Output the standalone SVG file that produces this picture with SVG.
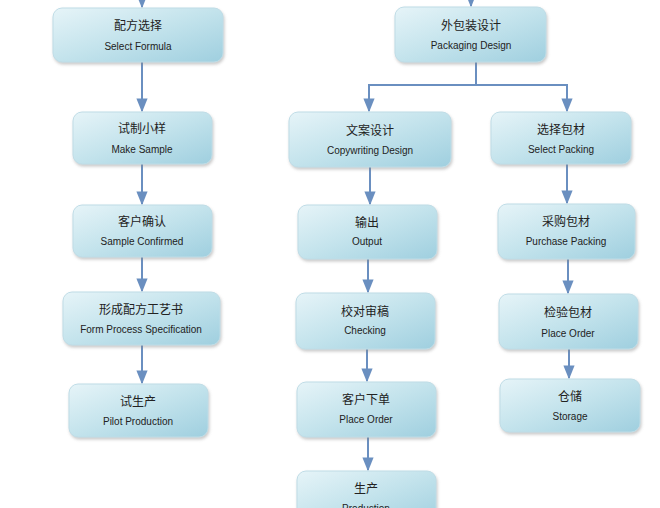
<svg xmlns="http://www.w3.org/2000/svg" width="660" height="508" viewBox="0 0 660 508">
<defs>
<linearGradient id="g" x1="0" y1="0" x2="1" y2="1">
<stop offset="0" stop-color="#e6f4f8"/><stop offset="0.5" stop-color="#c3e3ec"/><stop offset="1" stop-color="#9fcfdf"/>
</linearGradient>
<marker id="a" viewBox="0 0 10 10" refX="9" refY="5" markerWidth="7" markerHeight="7" orient="auto"><path d="M0,1 L10,5 L0,9 z" fill="#6a8fc0"/></marker>
<filter id="s" x="-10%" y="-10%" width="130%" height="140%"><feDropShadow dx="1" dy="2" stdDeviation="1.5" flood-color="#888" flood-opacity="0.45"/></filter>
</defs>
<style>
rect{fill:url(#g);stroke:#bfdce6;stroke-width:1;filter:url(#s)}
.c{font-family:"Liberation Sans","Noto Sans CJK SC",sans-serif;font-size:12px;fill:#222;text-anchor:middle}
.e{font-family:"Liberation Sans","Noto Sans CJK SC",sans-serif;font-size:10px;fill:#222;text-anchor:middle}
#conn path{fill:none;stroke:#6a8fc0;stroke-width:2}
</style>
<rect width="660" height="508" fill="#fff" style="fill:#fff;stroke:none;filter:none"/>
<g id="conn">
<path d="M142,0 V7" marker-end="url(#a)"/>
<path d="M142,62 V111" marker-end="url(#a)"/>
<path d="M142,164 V204" marker-end="url(#a)"/>
<path d="M142,257 V291" marker-end="url(#a)"/>
<path d="M142,345 V383" marker-end="url(#a)"/>
<path d="M471,0 V6" marker-end="url(#a)"/>
<path d="M476,62 V85 H369 V111" marker-end="url(#a)"/>
<path d="M476,85 H567 V111" marker-end="url(#a)"/>
<path d="M370,167 V204" marker-end="url(#a)"/>
<path d="M368,259 V292" marker-end="url(#a)"/>
<path d="M367,349 V381" marker-end="url(#a)"/>
<path d="M368,437 V470" marker-end="url(#a)"/>
<path d="M567,164 V203" marker-end="url(#a)"/>
<path d="M568,259 V293" marker-end="url(#a)"/>
<path d="M569,349 V378" marker-end="url(#a)"/>
</g>
<g id="n1"><rect x="53" y="8" width="170" height="54" rx="9"/><text class="c" x="138" y="30">配方选择</text><text class="e" x="138" y="50">Select Formula</text></g>
<g id="n2"><rect x="73" y="112" width="139" height="52" rx="9"/><text class="c" x="142" y="133">试制小样</text><text class="e" x="142" y="153">Make Sample</text></g>
<g id="n3"><rect x="73" y="205" width="139" height="52" rx="9"/><text class="c" x="142" y="226">客户确认</text><text class="e" x="142" y="245">Sample Confirmed</text></g>
<g id="n4"><rect x="63" y="292" width="157" height="53" rx="9"/><text class="c" x="141" y="314">形成配方工艺书</text><text class="e" x="141" y="333">Form Process Specification</text></g>
<g id="n5"><rect x="69" y="384" width="139" height="53" rx="9"/><text class="c" x="138" y="406">试生产</text><text class="e" x="138" y="425">Pilot Production</text></g>
<g id="m1"><rect x="395" y="7" width="151" height="55" rx="9"/><text class="c" x="471" y="30">外包装设计</text><text class="e" x="471" y="49">Packaging Design</text></g>
<g id="m2"><rect x="289" y="112" width="162" height="55" rx="9"/><text class="c" x="370" y="135">文案设计</text><text class="e" x="370" y="154">Copywriting Design</text></g>
<g id="m3"><rect x="298" y="205" width="139" height="54" rx="9"/><text class="c" x="367" y="227">输出</text><text class="e" x="367" y="245">Output</text></g>
<g id="m4"><rect x="296" y="293" width="139" height="56" rx="9"/><text class="c" x="365" y="316">校对审稿</text><text class="e" x="365" y="334">Checking</text></g>
<g id="m5"><rect x="297" y="382" width="139" height="55" rx="9"/><text class="c" x="366" y="404">客户下单</text><text class="e" x="366" y="423">Place Order</text></g>
<g id="m6"><rect x="297" y="471" width="139" height="55" rx="9"/><text class="c" x="366" y="493">生产</text><text class="e" x="366" y="512">Production</text></g>
<g id="r1"><rect x="491" y="112" width="140" height="52" rx="9"/><text class="c" x="561" y="134">选择包材</text><text class="e" x="561" y="153">Select Packing</text></g>
<g id="r2"><rect x="498" y="204" width="137" height="55" rx="9"/><text class="c" x="566" y="226">采购包材</text><text class="e" x="566" y="245">Purchase Packing</text></g>
<g id="r3"><rect x="499" y="294" width="139" height="55" rx="9"/><text class="c" x="568" y="317">检验包材</text><text class="e" x="568" y="337">Place Order</text></g>
<g id="r4"><rect x="500" y="379" width="140" height="53" rx="9"/><text class="c" x="570" y="401">仓储</text><text class="e" x="570" y="420">Storage</text></g>
</svg>
